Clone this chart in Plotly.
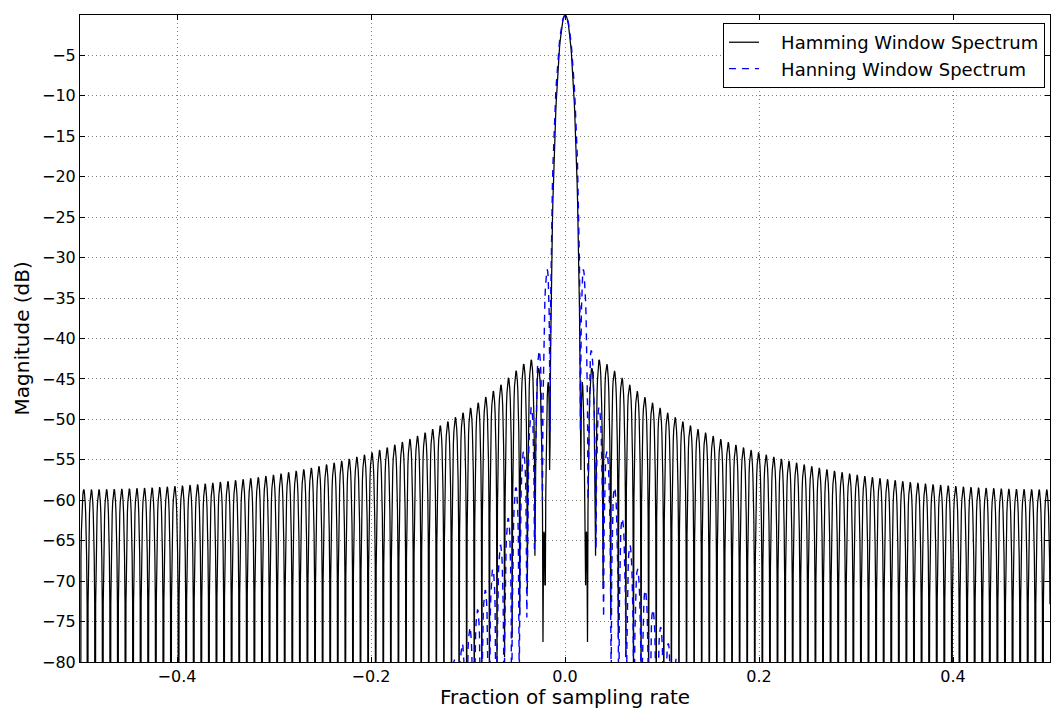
import numpy as np
import plotly.graph_objects as go

# ---- data definition (window spectra) ----
window_length = 128          # samples in each window
fft_length = 2048            # zero-padded FFT length
hamming_coeffs = [0.54, 0.46]
hanning_coeffs = [0.5, 0.5]
series_names = ["Hamming Window Spectrum", "Hanning Window Spectrum"]
x_tick_vals = [-0.4, -0.2, 0.0, 0.2, 0.4]
x_tick_text = ["\u22120.4", "\u22120.2", "0.0", "0.2", "0.4"]
y_tick_vals = [-5, -10, -15, -20, -25, -30, -35, -40, -45, -50, -55, -60, -65, -70, -75, -80]
y_tick_text = ["\u2212%d" % abs(v) for v in y_tick_vals]

n = np.arange(window_length)


def spectrum(coeffs):
    a0, a1 = coeffs
    w = a0 - a1 * np.cos(2 * np.pi * n / (window_length - 1))
    A = np.fft.fft(w, fft_length)
    mag = np.abs(np.fft.fftshift(A))
    mag = mag / mag.max()
    with np.errstate(divide="ignore"):
        resp = 20 * np.log10(mag)
    resp = np.clip(resp, -200, None)
    return resp


freq = np.linspace(-0.5, 0.5, fft_length)
resp_hamming = spectrum(hamming_coeffs)
resp_hanning = spectrum(hanning_coeffs)

pad = "\u00a0\u00a0\u00a0"
fig = go.Figure()
fig.add_trace(go.Scatter(x=freq, y=resp_hamming, mode="lines", name=pad + series_names[0],
                         line=dict(color="black", width=1.25)))
fig.add_trace(go.Scatter(x=freq, y=resp_hanning, mode="lines", name=pad + series_names[1],
                         line=dict(color="blue", width=1.4, dash="7px,6px")))

font = dict(family="DejaVu Sans", size=16, color="black")
axis_common = dict(showline=True, linecolor="black", linewidth=1, mirror="ticks",
                   ticks="inside", ticklen=5, tickcolor="black",
                   showgrid=True, gridcolor="rgba(0,0,0,0.5)", griddash="1px,3px", gridwidth=1,
                   zeroline=False, tickfont=font)

fig.update_layout(
    width=1051, height=709,
    margin=dict(l=80, r=1, t=15, b=47),
    paper_bgcolor="white", plot_bgcolor="white",
    font=font,
    showlegend=True,
    legend=dict(x=0.9948, y=0.9876, xanchor="right", yanchor="top",
                bordercolor="black", borderwidth=1, bgcolor="white",
                font=dict(family="DejaVu Sans", size=18, color="black")),
    xaxis=dict(range=[-0.5, 0.5], tickvals=x_tick_vals, ticktext=x_tick_text,
               title=dict(text="Fraction of sampling rate", font=dict(family="DejaVu Sans", size=20), standoff=2),
               **axis_common),
    yaxis=dict(range=[-80, 0], tickvals=y_tick_vals, ticktext=y_tick_text,
               **axis_common),
    annotations=[dict(text="Magnitude (dB)", textangle=-90, xref="paper", yref="paper",
                      x=-0.0598, y=0.5, xanchor="center", yanchor="middle", showarrow=False,
                      font=dict(family="DejaVu Sans", size=20, color="black"))],
)

fig.write_html("out.html")
